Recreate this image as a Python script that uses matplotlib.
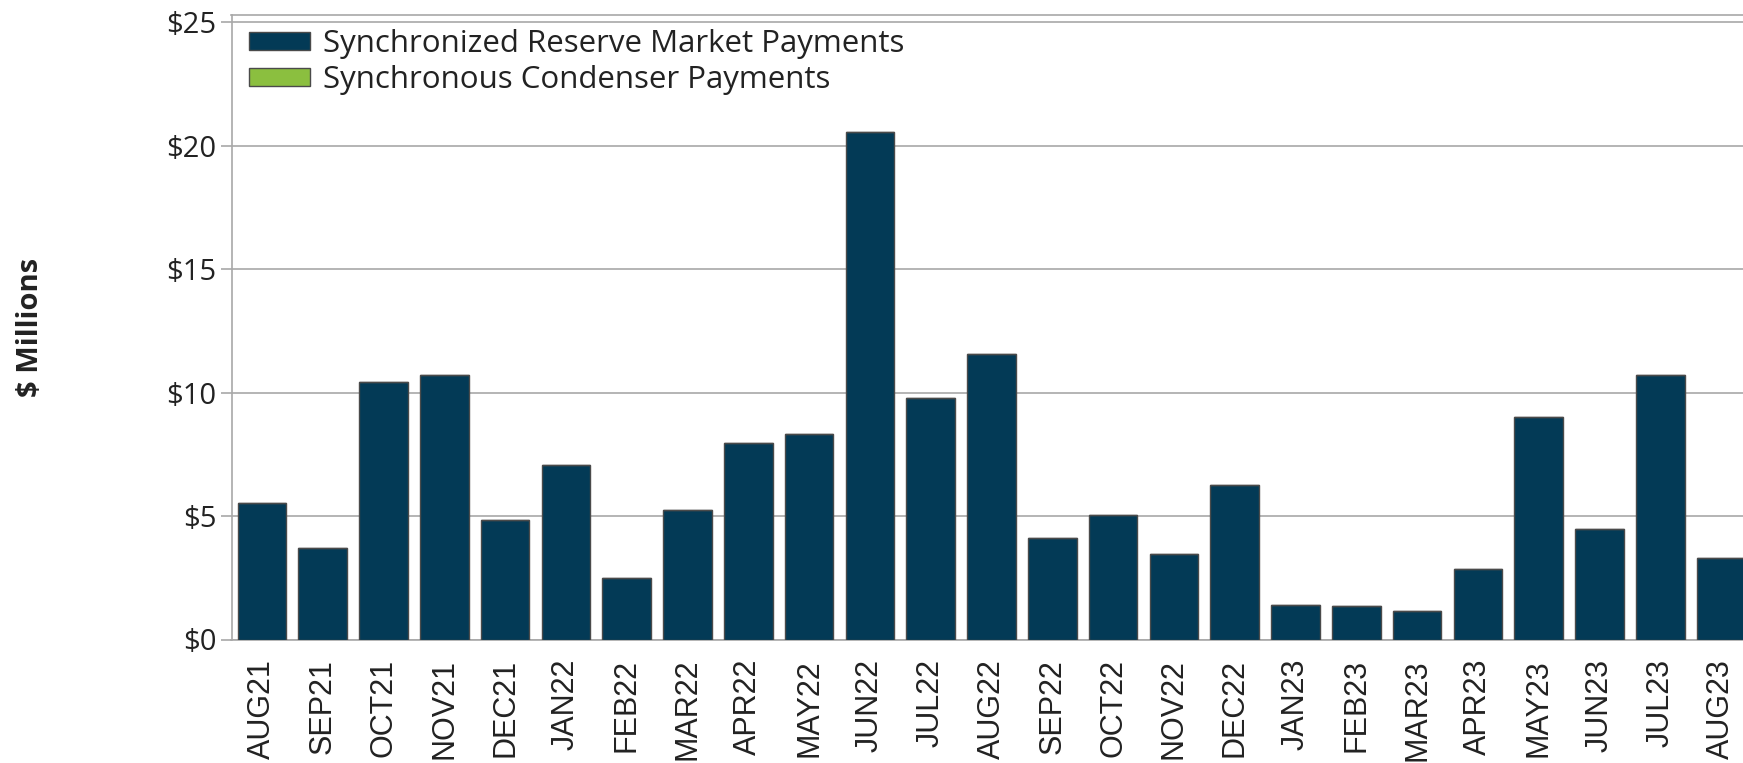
import matplotlib
matplotlib.use("Agg")
import matplotlib.pyplot as plt
import numpy as np

months = ["AUG21", "SEP21", "OCT21", "NOV21", "DEC21", "JAN22", "FEB22", "MAR22",
          "APR22", "MAY22", "JUN22", "JUL22", "AUG22", "SEP22", "OCT22", "NOV22",
          "DEC22", "JAN23", "FEB23", "MAR23", "APR23", "MAY23", "JUN23", "JUL23", "AUG23"]
sync_reserve = [5.54, 3.69, 10.45, 10.72, 4.86, 7.07, 2.48, 5.23, 7.97, 8.33, 20.54, 9.77,
                11.58, 4.10, 5.05, 3.47, 6.26, 1.40, 1.35, 1.17, 2.84, 9.01, 4.46, 10.72, 3.29]
sync_condenser = [0.0] * len(months)
yticks = [0, 5, 10, 15, 20, 25]

plt.rcParams['font.family'] = ['Open Sans', 'DejaVu Sans']

fig = plt.figure(figsize=(17.43, 7.63), dpi=100)
W, H = 1743, 763
left_px, right_px = 231.5, 1751.5
top_px, bot_px = 15, 639.5
ax = fig.add_axes([left_px / W, 1 - bot_px / H, (right_px - left_px) / W, (bot_px - top_px) / H])

x = np.arange(len(months))
navy = "#033A56"
green = "#8BBF3F"
ax.bar(x, sync_reserve, width=0.8, color=navy, edgecolor="#4a4a4a", linewidth=1.0,
       label="Synchronized Reserve Market Payments", zorder=3)
ax.bar(x, sync_condenser, width=0.8, bottom=sync_reserve, color=green, edgecolor="#4a4a4a",
       linewidth=1.0, label="Synchronous Condenser Payments", zorder=3)

ax.set_xlim(-0.5, len(months) - 0.5)
ax.set_ylim(0, 25.3)
ax.set_yticks(yticks)
ax.set_yticklabels([f"${v}" for v in yticks])
ax.set_xticks(x)
ax.set_xticklabels(months, rotation=90, family=['Liberation Sans', 'DejaVu Sans'])

ax.yaxis.grid(True, color="#a8a8a8", linewidth=1.2, zorder=0)
ax.set_axisbelow(True)
for s in ["left", "bottom", "top"]:
    ax.spines[s].set_color("#a8a8a8")
    ax.spines[s].set_linewidth(1.2)
ax.spines["right"].set_visible(False)

ax.tick_params(axis="y", length=8, color="#a8a8a8", width=1.2, labelsize=21, labelcolor="#222222", pad=3)
ax.tick_params(axis="x", length=0, labelsize=22, labelcolor="#222222", pad=14)

fig.text(31 / W, 1 - 327 / H, "$ Millions", rotation=90, fontsize=21, fontweight="bold",
         ha="center", va="center", color="#222222")

ax.legend(loc="upper left", bbox_to_anchor=(0.0, 1.005), frameon=False, fontsize=22.5,
          handlelength=1.95, handleheight=0.5, handletextpad=0.42, labelspacing=0.19,
          borderaxespad=0.35, borderpad=0.2, labelcolor="#222222")

fig.savefig("out.png", dpi=100)
